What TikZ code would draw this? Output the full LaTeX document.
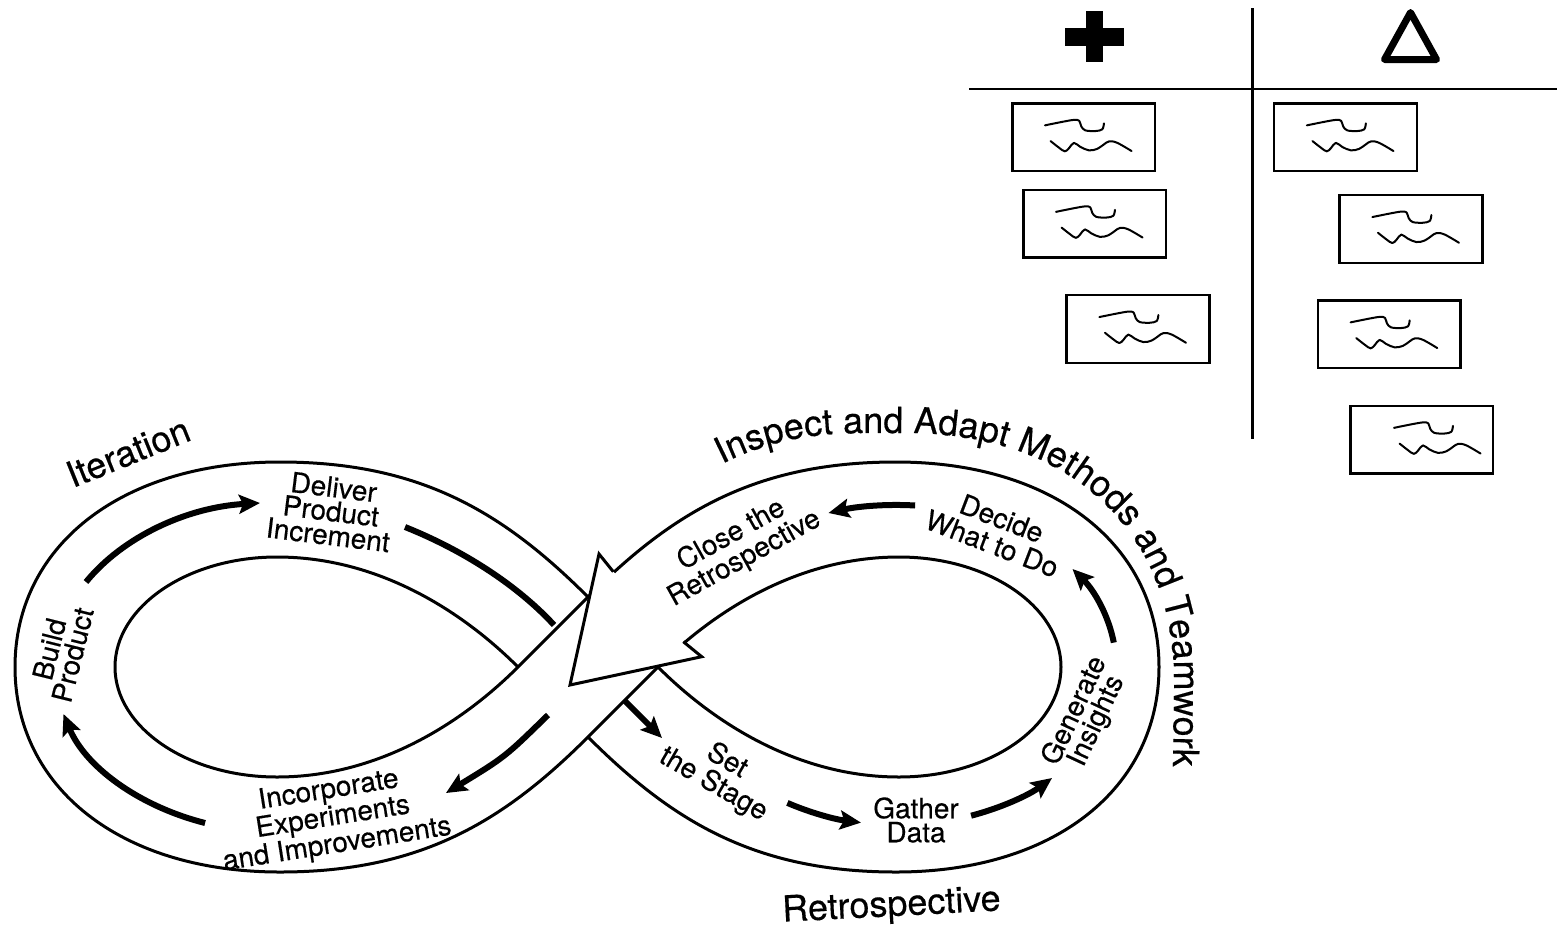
\documentclass[tikz,border=0pt]{standalone}
\usepackage{fontspec}
\setmainfont{TeX Gyre Heros}[FakeBold=0.4]
\usetikzlibrary{arrows.meta,decorations.text}
\newcommand\drawscribble[2]{%
  \begin{scope}[shift={(#1.north west)},xshift=#2]
    \draw[scrib] plot[smooth,tension=0.55] coordinates {(32.7,22) (50,18.5) (62,16.5) (67,17.5) (69,23) (73,27) (83,27.7) (90,26) (91.7,20)};
    \draw[scrib] plot[smooth,tension=0.6] coordinates {(38.3,37.7) (46.7,44.3) (52.7,48) (57,44.5) (61.7,39.5) (68,43.5) (76.7,47) (85,45.5) (91.7,41) (97,38) (105,39.5) (119.3,47.7)};
  \end{scope}}
\begin{document}
\begin{tikzpicture}[x=1pt,y=-1pt,
  band/.style={line width=3pt,line join=round},
  flow/.style={line width=6pt,-{Stealth[length=21pt,width=19pt,inset=4pt]}},
  flowline/.style={line width=6pt},
  lbl/.style={font=\fontsize{28}{24}\selectfont,align=center,inner sep=0pt},
  lblw/.style={font=\fontsize{28}{27}\selectfont,align=center,inner sep=0pt},
  big/.style={font=\fontsize{36}{36}\selectfont,inner sep=0pt},
  note/.style={draw,line width=2.5pt,minimum width=142.7pt,minimum height=67.7pt,inner sep=0pt,outer sep=0pt},
  scrib/.style={line width=2pt,line cap=round,line join=round}
]
\useasboundingbox (0,0) rectangle (1557,929);
\fill[white] (0,0) rectangle (1557,929);

% ---------- figure eight band ----------
% left loop, outer edge
\draw[band] (588,597) .. controls (503,512) and (420,462) .. (280,462)
  .. controls (120,462) and (15,547) .. (15,667)
  .. controls (15,787) and (120,872) .. (280,872)
  .. controls (420,872) and (503,822) .. (588,737) -- (658,667);
% left loop, inner edge
\draw[band] (588,597) -- (518,667) .. controls (461,724) and (377,777) .. (277,777)
  .. controls (187,777) and (115,727) .. (115,667)
  .. controls (115,607) and (187,557) .. (277,557)
  .. controls (377,557) and (461,610) .. (518,667);
% right loop, outer edge
\draw[band] (588,597) .. controls (673,512) and (756,462) .. (896,462)
  .. controls (1056,462) and (1159,547) .. (1159,667)
  .. controls (1159,787) and (1056,872) .. (896,872)
  .. controls (756,872) and (673,822) .. (588,737);
% right loop, inner edge
\draw[band] (658,667) .. controls (715,610) and (799,557) .. (899,557)
  .. controls (989,557) and (1061,607) .. (1061,667)
  .. controls (1061,727) and (989,777) .. (899,777)
  .. controls (799,777) and (715,724) .. (658,667);

% ---------- flow arrows ----------
\coordinate (a1s) at (86,582);   \coordinate (a1e) at (260,503);
\coordinate (a2s) at (405,527);  \coordinate (a2e) at (554,625);
\coordinate (a3s) at (624,700);  \coordinate (a3e) at (662,738);
\coordinate (a4s) at (787.4,802.9); \coordinate (a4e) at (861,822.6);
\coordinate (a5s) at (971.1,815.7); \coordinate (a5e) at (1052,778);
\coordinate (a6s) at (1113.8,642.6); \coordinate (a6e) at (1072.5,569);
\coordinate (a7s) at (915.1,505.5); \coordinate (a7e) at (828.5,513);
\coordinate (a8s) at (548,715);  \coordinate (a8e) at (446,793);
\coordinate (a9s) at (205.1,823); \coordinate (a9e) at (63.5,714);

\draw[flow] (a1s) .. controls (122.9,536.7) and (187.1,507.2) .. (a1e);
\draw[flowline] (a2s) .. controls (470,553) and (522,590) .. (a2e);
\draw[flow] (a3s) -- (a3e);
\draw[flow] (a4s) .. controls (809.9,812.6) and (834.5,819.3) .. (a4e);
\draw[flow] (a5s) .. controls (1001.3,807.8) and (1028.8,795.1) .. (a5e);
\draw[flow] (a6s) .. controls (1108.7,616.1) and (1094.7,591) .. (a6e);
\draw[flow] (a7s) .. controls (886.2,503.8) and (857.1,506.4) .. (a7e);
\draw[flow] (a8s) .. controls (505,757) .. (a8e);
\draw[flow] (a9s) .. controls (137.3,805.8) and (84.8,765.7) .. (a9e);

% ---------- big arrow head at the crossing ----------
\coordinate (J1) at (613.3,571.7);
\coordinate (B1) at (599,554);
\coordinate (T)  at (570,685);
\coordinate (B2) at (701.7,656.7);
\coordinate (J2) at (683.3,641.7);
\fill[white] (J1) -- (B1) -- (T) -- (B2) -- (J2) -- cycle;
\draw[band,line join=miter] (J1) -- (B1) -- (T) -- (B2) -- (J2);

% ---------- labels ----------
\node[big,rotate=22] (iter) at (128,452) {Iteration};
\node[lbl,rotate=-7] (deliver) at (331,511) {Deliver\\Product\\Increment};
\node[lbl,rotate=76] (build) at (61,652) {Build\\Product};
\node[lbl,rotate=9] (incorp) at (333,818) {Incorporate\\Experiments\\and Improvements};
\node[lblw,rotate=29] (close) at (738,547) {Close the\\Retrospective};
\node[lblw,rotate=-21] (decide) at (997,531) {Decide\\What to Do};
\node[lbl,rotate=65] (gen) at (1086,716) {Generate\\Insights};
\node[lblw,rotate=-30] (setst) at (720,773) {Set\\the Stage};
\node[lbl] (gather) at (916,820) {Gather\\Data};
\node[big,rotate=3,anchor=base] (retro) at (892,916) {Retrospective};
\path[decorate,decoration={text along path,text align=left,
  text={|\fontsize{36}{36}\selectfont|Inspect and Adapt Methods and Teamwork}}]
  (722,464) .. controls (790,430) and (840,433) .. (905,433)
  .. controls (1080,433) and (1174,540) .. (1174,680)
  .. controls (1174,720) and (1173,770) .. (1171,830);

% ---------- plus / delta board ----------
\draw[line width=2.8pt] (969,89) -- (1557,89);
\draw[line width=2.8pt] (1252.5,8) -- (1252.5,439);
\fill (1065,27.7) rectangle (1124,45.7);
\fill (1086,11) rectangle (1103.3,62.3);
\draw[line width=7pt,line join=round] (1410.5,12.5) -- (1384.5,59.5) -- (1436.5,59.5) -- cycle;

\node[note] (s1) at (1083.6,137.2) {};
\node[note] (s2) at (1345.5,137.2) {};
\node[note] (s3) at (1094.6,223.7) {};
\node[note] (s4) at (1411,228.9) {};
\node[note] (s5) at (1138,328.9) {};
\node[note] (s6) at (1389.3,334.2) {};
\node[note] (s7) at (1421.6,439.7) {};
\drawscribble{s1}{0pt}
\drawscribble{s2}{0pt}
\drawscribble{s3}{0pt}
\drawscribble{s4}{0pt}
\drawscribble{s5}{0pt}
\drawscribble{s6}{0pt}
\drawscribble{s7}{11pt}
\end{tikzpicture}
\end{document}
